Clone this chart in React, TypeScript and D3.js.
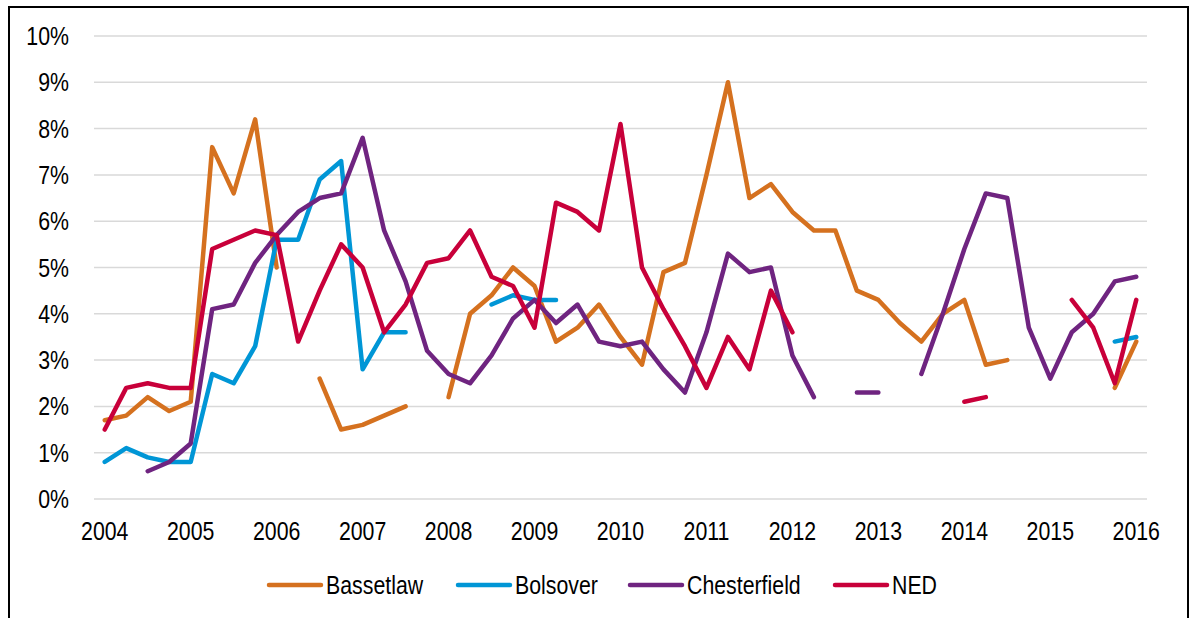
import React from "react";
import * as d3 from "d3";

// quarterly points, 2004 Q1 .. 2016 Q1 (null = no value)
const yearLabels = ["2004", "2005", "2006", "2007", "2008", "2009", "2010", "2011", "2012", "2013", "2014", "2015", "2016"];
const seriesNames = ["Bassetlaw", "Bolsover", "Chesterfield", "NED"];
const seriesColors = ["#D5711F", "#0096D6", "#6F2480", "#C8003A"];

const bassetlaw = [
  1.7, 1.8, 2.2, 1.9, 2.1, 7.6, 6.6, 8.2, 5.0, null, 2.6, 1.5, 1.6, 1.8, 2.0, null,
  2.2, 4.0, 4.4, 5.0, 4.6, 3.4, 3.7, 4.2, 3.5, 2.9, 4.9, 5.1, 7.0, 9.0, 6.5, 6.8,
  6.2, 5.8, 5.8, 4.5, 4.3, 3.8, 3.4, 4.0, 4.3, 2.9, 3.0, null, null, null, null, 2.4,
  3.4,
];
const bolsover = [
  0.8, 1.1, 0.9, 0.8, 0.8, 2.7, 2.5, 3.3, 5.6, 5.6, 6.9, 7.3, 2.8, 3.6, 3.6, null,
  null, null, 4.2, 4.4, 4.3, 4.3, null, null, null, null, null, null, null, null, null, null,
  null, null, null, null, null, null, null, null, null, null, null, null, null, null, null, 3.4,
  3.5,
];
const chesterfield = [
  null, null, 0.6, 0.8, 1.2, 4.1, 4.2, 5.1, 5.7, 6.2, 6.5, 6.6, 7.8, 5.8, 4.7, 3.2,
  2.7, 2.5, 3.1, 3.9, 4.3, 3.8, 4.2, 3.4, 3.3, 3.4, 2.8, 2.3, 3.6, 5.3, 4.9, 5.0,
  3.1, 2.2, null, 2.3, 2.3, null, 2.7, 4.0, 5.4, 6.6, 6.5, 3.7, 2.6, 3.6, 4.0, 4.7,
  4.8,
];
const ned = [
  1.5, 2.4, 2.5, 2.4, 2.4, 5.4, 5.6, 5.8, 5.7, 3.4, 4.5, 5.5, 5.0, 3.6, 4.2, 5.1,
  5.2, 5.8, 4.8, 4.6, 3.7, 6.4, 6.2, 5.8, 8.1, 5.0, 4.1, 3.3, 2.4, 3.5, 2.8, 4.5,
  3.6, null, null, null, null, null, null, null, 2.1, 2.2, null, null, null, 4.3, 3.7, 2.5,
  4.3,
];
const yTicks = [0, 1, 2, 3, 4, 5, 6, 7, 8, 9, 10];

const W = 1193;
const H = 618;
const FONT = "'Liberation Sans', Arial, sans-serif";
const SQUEEZE = 0.82; // no narrow face installed, so squeeze the regular one

// text drawn narrow by scaling x around its anchor point
const NarrowText = ({ x, y, anchor = "start", children }) => (
  <g transform={`translate(${x},${y}) scale(${SQUEEZE},1)`}>
    <text x={0} y={0} textAnchor={anchor} fontSize={26} fill="#000">
      {children}
    </text>
  </g>
);

export default function App() {
  const allSeries = [bassetlaw, bolsover, chesterfield, ned];
  const quarters = d3.range(bassetlaw.length);

  const x = d3.scaleBand<number>().domain(quarters).range([94, 1147]).padding(0);
  const cx = (i: number) => (x(i) as number) + x.bandwidth() / 2;
  const y = d3.scaleLinear().domain([0, 10]).range([499, 36]);

  const line = d3
    .line<number | null>()
    .defined((d) => d !== null)
    .x((_, i) => cx(i))
    .y((d) => y(d as number));

  const legendX = [267, 456, 628, 833];

  return (
    <svg width={W} height={H} style={{ display: "block", position: "absolute", left: 0, top: 0 }} fontFamily={FONT}>
      <rect x={0} y={0} width={W} height={H} fill="#fff" />
      <rect x={9} y={7} width={1179} height={H} fill="none" stroke="#000" strokeWidth={2} />

      {yTicks.map((t) => (
        <g key={t}>
          <line x1={94} x2={1147} y1={y(t)} y2={y(t)} stroke="#D9D9D9" strokeWidth={1.5} />
          <NarrowText x={69} y={y(t) + 9} anchor="end">
            {t}%
          </NarrowText>
        </g>
      ))}

      {yearLabels.map((lab, k) => (
        <NarrowText key={lab} x={cx(k * 4)} y={540} anchor="middle">
          {lab}
        </NarrowText>
      ))}

      {allSeries.map((s, k) => (
        <path
          key={seriesNames[k]}
          d={line(s) || ""}
          fill="none"
          stroke={seriesColors[k]}
          strokeWidth={4.5}
          strokeLinecap="round"
          strokeLinejoin="round"
        />
      ))}

      {seriesNames.map((name, k) => (
        <g key={name} transform={`translate(${legendX[k]},585)`}>
          <line x1={2} x2={54} y1={0} y2={0} stroke={seriesColors[k]} strokeWidth={4.5} strokeLinecap="round" />
          <NarrowText x={59} y={9}>
            {name}
          </NarrowText>
        </g>
      ))}
    </svg>
  );
}
